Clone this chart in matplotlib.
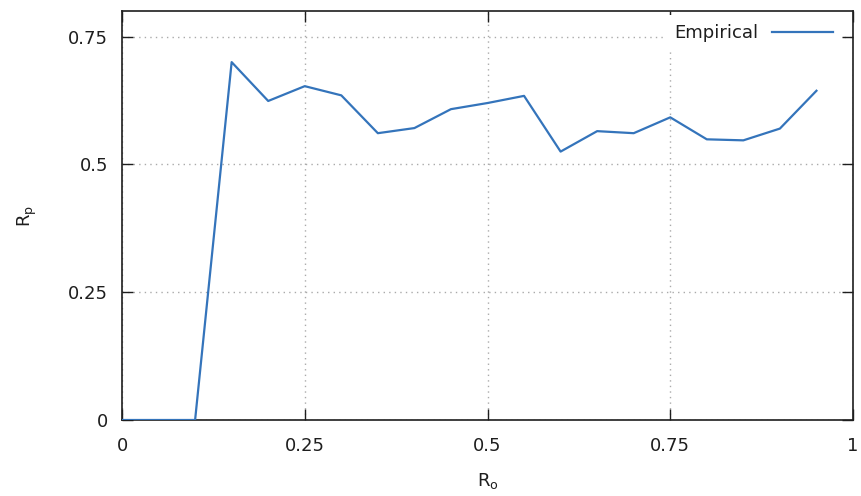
import matplotlib
matplotlib.use("Agg")
import matplotlib.pyplot as plt

# Observed fraction R_p against R_o
r_o = [0.0, 0.05, 0.10, 0.15, 0.20, 0.25, 0.30, 0.35, 0.40, 0.45,
       0.50, 0.55, 0.60, 0.65, 0.70, 0.75, 0.80, 0.85, 0.90, 0.95]
r_p = [0.0, 0.0, 0.0, 0.700, 0.624, 0.653, 0.635, 0.561, 0.571, 0.608,
       0.620, 0.634, 0.525, 0.565, 0.561, 0.592, 0.549, 0.547, 0.570, 0.644]
series_label = "Empirical"
x_ticks = [0, 0.25, 0.5, 0.75, 1]
x_tick_labels = ["0", "0.25", "0.5", "0.75", "1"]
y_ticks = [0, 0.25, 0.5, 0.75]
y_tick_labels = ["0", "0.25", "0.5", "0.75"]

plt.rcParams["font.family"] = ["DejaVu Sans"]
plt.rcParams["mathtext.default"] = "regular"

FS = 13
INK = "#1e1e1e"

fig = plt.figure(figsize=(8.61, 4.96), dpi=100)
ax = fig.add_axes([122 / 861, 76 / 496, 731 / 861, 409 / 496])

ax.plot(r_o, r_p, color="#3474bb", lw=1.6, label=series_label, zorder=3)

ax.set_xlim(0, 1)
ax.set_ylim(0, 0.8)
ax.set_xticks(x_ticks)
ax.set_xticklabels(x_tick_labels)
ax.set_yticks(y_ticks)
ax.set_yticklabels(y_tick_labels)

ax.tick_params(direction="in", length=8, width=1, top=True, right=True,
               labelsize=FS, colors=INK)
ax.tick_params(axis="y", pad=10)
ax.tick_params(axis="x", pad=12)
for s in ax.spines.values():
    s.set_linewidth(1.2)
    s.set_color(INK)

ax.grid(True, color="#aaaaaa", linestyle=(0, (1, 3)), linewidth=1)

ax.set_xlabel("R$_o$", fontsize=FS, color=INK, labelpad=12)
ax.set_ylabel("R$_p$", fontsize=FS, color=INK, labelpad=21)

leg = ax.legend(loc="center right", bbox_to_anchor=(0.985, 0.946),
                borderaxespad=0, frameon=True, facecolor="white",
                edgecolor="none", framealpha=1, fancybox=False,
                markerfirst=False, fontsize=FS, handlelength=3.4,
                handletextpad=0.75, borderpad=0.5)
leg.set_zorder(5)
for t in leg.get_texts():
    t.set_color(INK)

fig.savefig("out.png", dpi=100)
